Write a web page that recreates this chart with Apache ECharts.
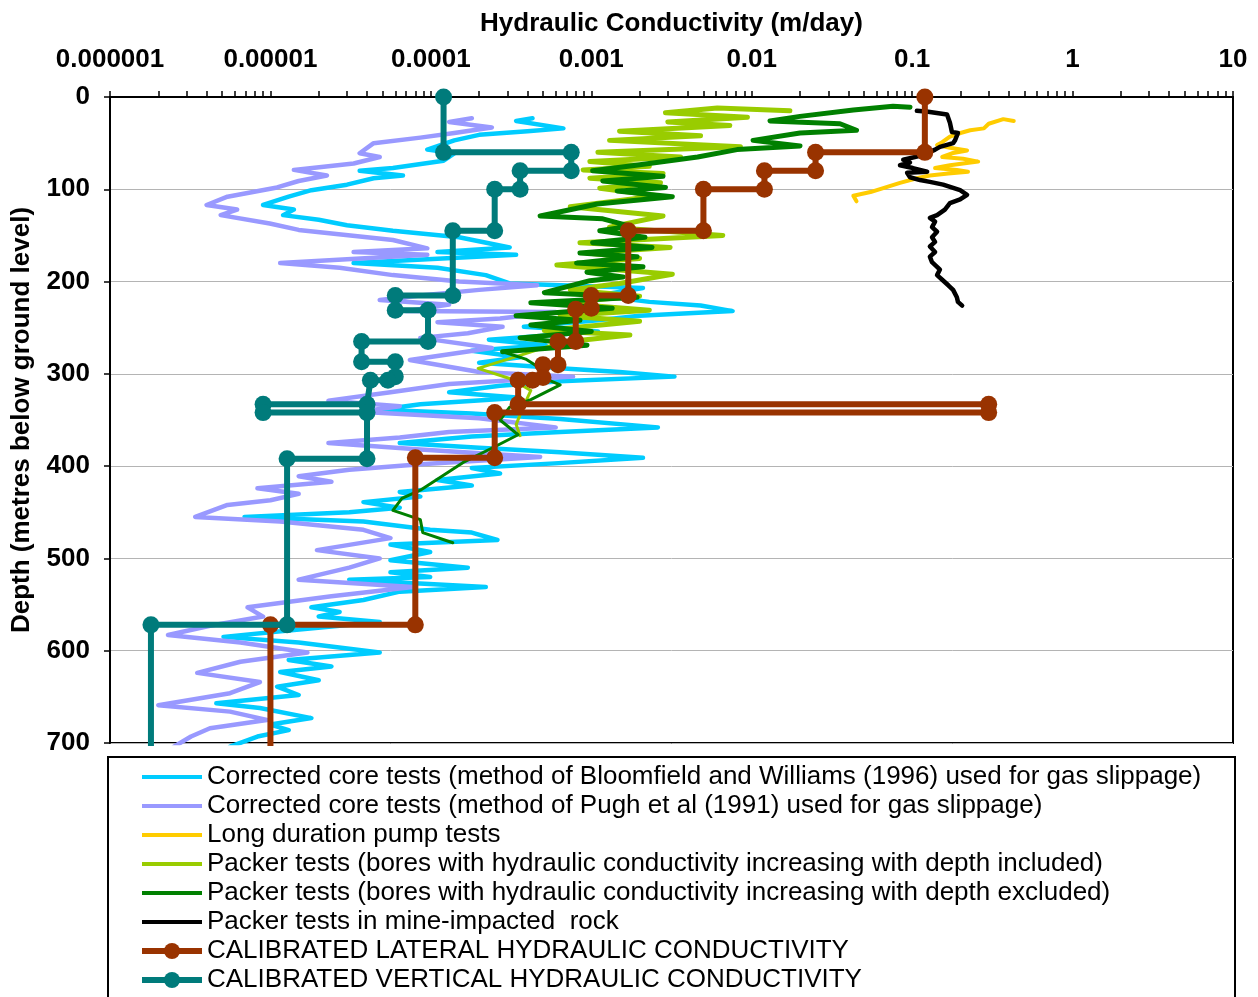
<!DOCTYPE html>
<html>
<head>
<meta charset="utf-8">
<script src="https://cdn.jsdelivr.net/npm/echarts@6/dist/echarts.min.js"></script>
<style>
  html, body { margin: 0; padding: 0; background: #ffffff; }
  #chart { width: 1258px; height: 997px; }
</style>
</head>
<body>
<div id="chart"></div>
<script>
// Hydraulic conductivity (m/day, log scale) against depth (m below ground level)

const conductivityTicks = [1e-6, 1e-5, 1e-4, 1e-3, 1e-2, 1e-1, 1, 10];
const conductivityTickLabels = ['0.000001', '0.00001', '0.0001', '0.001', '0.01', '0.1', '1', '10'];
const depthRange = [0, 700];

const seriesNames = [
  'Corrected core tests (method of Bloomfield and Williams (1996) used for gas slippage)',
  'Corrected core tests (method of Pugh et al (1991) used for gas slippage)',
  'Long duration pump tests',
  'Packer tests (bores with hydraulic conductivity increasing with depth included)',
  'Packer tests (bores with hydraulic conductivity increasing with depth excluded)',
  'Packer tests in mine-impacted  rock',
  'CALIBRATED LATERAL HYDRAULIC CONDUCTIVITY',
  'CALIBRATED VERTICAL HYDRAULIC CONDUCTIVITY'
];
const seriesColors = ['#00CCFF', '#9999FF', '#FFCC00', '#99CC00', '#008000', '#000000', '#993300', '#007B7B'];

// [conductivity m/day, depth m]
const coreBloomfield = [
  [4.3e-4,23],[3.4e-4,26],[6.7e-4,34],[4.0e-4,37],[2.0e-4,41],[1.4e-4,47],[9.5e-5,57],[1.4e-4,61],
  [1.2e-4,69],[5.8e-5,77],[3.6e-5,80],[6.7e-5,85],[4.4e-5,88],[3.0e-5,95],[1.8e-5,101],[1.3e-5,108],
  [9.0e-6,117],[1.4e-5,122],[1.2e-5,128],[2.0e-5,133],[3.0e-5,139],[5.8e-5,145],[1.5e-4,152],[3.1e-4,163],
  [1.1e-4,168],[3.4e-4,171],[3.3e-5,180],[1.1e-4,185],[2.2e-4,193],[3.1e-4,202],[9.8e-4,205],[2.1e-3,207],
  [1.1e-3,215],[2.3e-3,222],[4.8e-3,226],[7.6e-3,232],[2.0e-3,237],[1.1e-3,242],[3.8e-4,249],[1.1e-3,254],
  [4.8e-4,259],[2.3e-4,263],[5.2e-4,269],[1.8e-4,275],[3.6e-4,282],[2.0e-4,288],[6.4e-4,294],[1.5e-3,298],
  [3.3e-3,303],[6.4e-4,308],[2.7e-4,313],[1.3e-4,320],[3.6e-4,326],[8.6e-5,333],[4.8e-5,339],[1.8e-4,343],
  [6.4e-4,349],[2.6e-3,358],[6.4e-4,363],[1.8e-4,368],[6.4e-5,375],[2.0e-4,380],[6.4e-4,385],[2.1e-3,391],
  [5.9e-4,397],[1.8e-4,402],[2.7e-4,408],[1.1e-4,415],[1.8e-4,421],[6.4e-5,428],[8.6e-5,433],[3.8e-5,439],
  [6.4e-5,445],[3.1e-5,450],[6.9e-6,455],[3.8e-5,460],[9.9e-5,469],[1.8e-4,472],[2.6e-4,480],[5.6e-5,485],
  [9.9e-5,493],[5.6e-5,502],[1.7e-4,510],[5.6e-5,515],[9.9e-5,520],[3.1e-5,523],[2.2e-4,531],[6.4e-5,536],
  [3.8e-5,545],[1.8e-5,553],[2.7e-5,558],[2.0e-5,563],[4.8e-5,569],[1.3e-5,578],[5.1e-6,585],[1.5e-5,591],
  [4.8e-5,602],[1.3e-5,610],[2.4e-5,617],[1.15e-5,623],[2.0e-5,632],[1.1e-5,639],[1.5e-5,648],[4.6e-6,657],
  [8.6e-6,662],[1.8e-5,673],[1.0e-5,680],[1.3e-5,686],[8.3e-6,693],[5.6e-6,704]
];

const corePugh = [
  [1.8e-4,23],[1.3e-4,27],[2.4e-4,33],[1.4e-4,39],[8.6e-5,44],[4.4e-5,50],[3.6e-5,61],[4.8e-5,65],
  [3.3e-5,72],[1.4e-5,79],[2.25e-5,85],[1.5e-5,91],[1.1e-5,98],[5.4e-6,108],[4.0e-6,117],[6.2e-6,122],
  [4.9e-6,128],[9.9e-6,137],[1.5e-5,144],[5.8e-5,155],[9.5e-5,164],[3.3e-5,168],[9.5e-5,171],[1.15e-5,180],
  [2.7e-5,185],[5.8e-5,193],[1.5e-4,200],[4.6e-4,204],[2.0e-4,209],[8.6e-5,215],[4.8e-5,220],[1.3e-4,225],
  [7.0e-5,232],[6.0e-4,233],[2.7e-4,240],[1.1e-4,244],[2.8e-4,249],[1.7e-4,256],[8.6e-5,261],[2.4e-4,272],
  [7.4e-5,285],[2.0e-4,298],[7.7e-4,303],[1.3e-4,311],[5.6e-5,320],[2.3e-5,329],[6.4e-5,335],[3.6e-5,341],
  [2.0e-4,348],[6.0e-4,358],[1.3e-4,363],[6.4e-5,369],[2.3e-5,375],[8.6e-5,382],[4.8e-4,390],[8.6e-5,398],
  [3.1e-5,404],[1.5e-5,411],[2.4e-5,417],[8.3e-6,424],[1.5e-5,430],[1.0e-5,437],[5.4e-6,442],[3.4e-6,455],
  [1.15e-5,460],[3.8e-5,469],[5.6e-5,478],[1.95e-5,491],[4.8e-5,500],[3.1e-5,510],[1.5e-5,523],[7.7e-5,531],
  [2.4e-5,541],[7.2e-6,553],[9.0e-6,563],[4.2e-6,573],[2.3e-6,583],[6.5e-6,591],[1.7e-5,602],[6.5e-6,612],
  [3.5e-6,624],[8.6e-6,634],[5.6e-6,646],[2.0e-6,659],[5.6e-6,666],[9.5e-6,675],[4.2e-6,684],[3.2e-6,693],
  [2.5e-6,704]
];

const pumpTests = [
  [0.43,26],[0.37,24],[0.30,29],[0.28,34],[0.23,36],[0.20,39],[0.172,43],[0.154,49],[0.143,52],
  [0.172,55],[0.22,58],[0.177,61],[0.154,65],[0.208,67],[0.258,70],[0.172,74],[0.139,77],[0.19,79],
  [0.223,81],[0.168,83],[0.129,85],[0.107,88],[0.084,93],[0.055,103],[0.043,107],[0.045,113]
];

const packerIncluded = [
  [0.0173,15],[0.0061,12],[0.0029,17],[0.0094,22],[0.0030,27],[0.0073,31],[0.0015,37],[0.0048,42],
  [0.0013,47],[0.0085,54],[0.0011,60],[0.0036,65],[0.00098,70],[0.0023,75],[0.00089,79],[0.0028,83],
  [0.00098,88],[0.0027,93],[0.00113,99],[0.0026,107],[0.00074,119],[0.0028,129],[0.0013,141],[0.0066,150],
  [0.00085,158],[0.0031,163],[0.00094,169],[0.0020,175],[0.00061,182],[0.0032,192],[0.0015,202],[0.00074,209],
  [0.0020,216],[0.00059,223],[0.0023,231],[0.00064,237],[0.0020,243],[0.00051,253],[0.00174,258],[0.00064,266]
];
const packerIncludedDeep = [
  [0.00064,266],[0.00036,280],[0.000197,294],[0.00031,305],[0.00042,318],[0.00037,339],[0.00034,355],[0.00036,367]
];

const packerExcluded = [
  [0.097,11],[0.076,10],[0.043,14],[0.020,21],[0.013,26],[0.0355,29],[0.045,36],[0.020,39],[0.0102,47],
  [0.020,53],[0.0081,57],[0.0046,65],[0.0019,74],[0.00102,80],[0.0028,86],[0.00118,91],[0.0029,98],
  [0.00145,102],[0.0032,108],[0.00109,116],[0.00048,129],[0.00118,132],[0.00174,140],[0.00113,145],
  [0.00216,152],[0.00102,158],[0.00239,163],[0.00085,169],[0.00193,173],[0.00081,180],[0.0021,184],
  [0.00094,190],[0.00158,195],[0.00098,199],[0.00051,212],[0.00193,217],[0.00042,223],[0.00135,229],
  [0.00034,237],[0.00085,242],[0.00042,247],[0.001,254],[0.00036,261],[0.00094,269],[0.00028,276]
];
const packerExcludedDeep = [
  [0.00028,276],[0.00039,284],[0.00048,294],[0.00051,305],[0.00064,312],[0.00042,328],[0.00031,336],
  [0.00027,350],[0.00035,366],[0.00025,379],[0.000159,396],[8.6e-5,426],[6.6e-5,435],[5.8e-5,448],
  [8.6e-5,458],[8.9e-5,472],[1.37e-4,483]
];

const mineImpacted = [
  [0.107,15],[0.126,16],[0.165,19],[0.172,28],[0.177,38],[0.193,39],[0.185,47],[0.18,50],[0.149,54],
  [0.139,57],[0.117,63],[0.088,68],[0.097,71],[0.084,74],[0.101,77],[0.124,81],[0.093,82],[0.097,87],
  [0.112,90],[0.129,92],[0.156,95],[0.199,101],[0.22,106],[0.199,111],[0.172,115],[0.16,122],[0.143,128],
  [0.129,131],[0.139,135],[0.133,141],[0.143,146],[0.133,152],[0.139,157],[0.129,162],[0.139,168],
  [0.129,173],[0.133,179],[0.143,184],[0.149,187],[0.143,193],[0.154,198],[0.168,204],[0.18,209],
  [0.19,217],[0.193,222],[0.205,226]
];

const calibratedLateral = [
  [0.12,0],[0.12,60],[0.025,60],[0.025,80],[0.012,80],[0.012,100],[0.005,100],[0.005,145],
  [0.0017,145],[0.0017,215],[0.001,215],[0.001,229],[0.0008,230],[0.0008,265],[0.00062,265],
  [0.00062,290],[0.0005,290],[0.0005,304],[0.00043,307],[0.00035,307],[0.00035,333],[0.3,333],
  [0.3,342],[0.00025,342],[0.00025,391],[0.00008,391],[0.00008,572],[0.00001,572],[0.00001,720]
];

const calibratedVertical = [
  [1.2e-4,0],[1.2e-4,60],[7.5e-4,60],[7.5e-4,80],[3.6e-4,80],[3.6e-4,100],[2.5e-4,100],[2.5e-4,145],
  [1.37e-4,145],[1.37e-4,215],[6.0e-5,215],[6.0e-5,231],[9.6e-5,231],[9.6e-5,265],[3.7e-5,265],
  [3.7e-5,287],[6.0e-5,287],[6.0e-5,303],[5.4e-5,307],[4.2e-5,307],[4.0e-5,333],[9.0e-6,333],
  [9.0e-6,342],[4.0e-5,342],[4.0e-5,392],[1.27e-5,392],[1.27e-5,572],[1.8e-6,572],[1.8e-6,720]
];

const FONT = '"Liberation Sans", Arial, sans-serif';
// Plain bar used as the legend key for the unmarked traces
const LINE_KEY = 'path://M0,0H60V4H0Z';

function trace(name, data, color, width, z) {
  return {
    name: name, type: 'line', data: data, z: z,
    showSymbol: false, symbol: 'none', clip: true,
    lineStyle: { color: color, width: width, join: 'round', cap: 'round' },
    itemStyle: { color: color },
    emphasis: { disabled: true }
  };
}

function calibrated(name, data, color, z) {
  return {
    name: name, type: 'line', data: data, z: z,
    symbol: 'circle', symbolSize: 17, showSymbol: true, showAllSymbol: true, clip: true,
    lineStyle: { color: color, width: 6, join: 'round' },
    itemStyle: { color: color },
    emphasis: { disabled: true }
  };
}

const legendItems = seriesNames.map(function (n, i) {
  return i < 6 ? { name: n, icon: LINE_KEY, itemStyle: { color: seriesColors[i] } } : { name: n };
});

const chart = echarts.init(document.getElementById('chart'), null, { renderer: 'canvas' });

chart.setOption({
  animation: false,
  backgroundColor: '#ffffff',
  textStyle: { fontFamily: FONT },
  grid: {
    left: 110, top: 97, right: 25, bottom: 254,
    show: true, borderColor: '#000000', borderWidth: 2,
    containLabel: false, outerBoundsMode: 'none'
  },
  xAxis: {
    type: 'log', logBase: 10, position: 'top',
    min: conductivityTicks[0], max: conductivityTicks[conductivityTicks.length - 1],
    splitNumber: conductivityTicks.length - 1,
    name: 'Hydraulic Conductivity (m/day)', nameLocation: 'middle', nameGap: 60,
    nameTextStyle: { fontFamily: FONT, fontSize: 26, fontWeight: 'bold', color: '#000000' },
    axisLine: { show: true, lineStyle: { color: '#000000', width: 2 } },
    axisTick: { show: true, inside: false, length: 6, lineStyle: { color: '#000000', width: 1.5 } },
    minorTick: { show: true, splitNumber: 9, length: 6, lineStyle: { color: '#000000', width: 1.5 } },
    splitLine: { show: false },
    minorSplitLine: { show: false },
    axisLabel: {
      margin: 24, fontFamily: FONT, fontSize: 26, fontWeight: 'bold', color: '#000000',
      formatter: function (v) {
        const i = Math.round(Math.log10(v)) - Math.round(Math.log10(conductivityTicks[0]));
        return conductivityTickLabels[i] !== undefined ? conductivityTickLabels[i] : '';
      }
    }
  },
  yAxis: {
    type: 'value', inverse: true, min: depthRange[0], max: depthRange[1], interval: 100,
    name: 'Depth (metres below ground level)', nameLocation: 'middle', nameGap: 75,
    nameTextStyle: { fontFamily: FONT, fontSize: 26, fontWeight: 'bold', color: '#000000' },
    axisLine: { show: true, lineStyle: { color: '#000000', width: 2 } },
    axisTick: { show: true, inside: false, length: 6, lineStyle: { color: '#000000', width: 1.5 } },
    splitLine: { show: true, lineStyle: { color: '#b4b4b4', width: 1 } },
    axisLabel: { margin: 20, fontFamily: FONT, fontSize: 26, fontWeight: 'bold', color: '#000000' }
  },
  legend: {
    show: true, orient: 'vertical', left: 139, top: 764, padding: 0,
    itemWidth: 60, itemHeight: 20, itemGap: 3, symbolKeepAspect: true,
    lineStyle: { width: 'inherit' },
    data: legendItems,
    textStyle: { fontFamily: FONT, fontSize: 26, color: '#000000' },
    selectedMode: false
  },
  graphic: [{
    type: 'rect', silent: true, z: 0,
    shape: { x: 108, y: 757, width: 1127, height: 260 },
    style: { fill: 'none', stroke: '#000000', lineWidth: 2 }
  }],
  series: [
    trace(seriesNames[0], coreBloomfield, seriesColors[0], 4.5, 2),
    trace(seriesNames[1], corePugh, seriesColors[1], 4.5, 2),
    trace(seriesNames[2], pumpTests, seriesColors[2], 4, 3),
    trace(seriesNames[3], packerIncluded, seriesColors[3], 5, 3),
    trace(seriesNames[3], packerIncludedDeep, seriesColors[3], 3, 3),
    trace(seriesNames[4], packerExcluded, seriesColors[4], 5, 4),
    trace(seriesNames[4], packerExcludedDeep, seriesColors[4], 3, 4),
    trace(seriesNames[5], mineImpacted, seriesColors[5], 4.5, 4),
    calibrated(seriesNames[6], calibratedLateral, seriesColors[6], 5),
    calibrated(seriesNames[7], calibratedVertical, seriesColors[7], 6)
  ]
});
</script>
</body>
</html>
